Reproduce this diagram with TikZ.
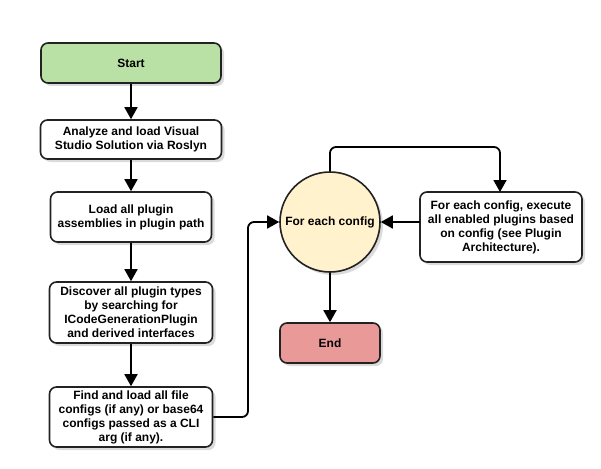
\documentclass[tikz,border=0pt]{standalone}
\usepackage{fontspec}
\setmainfont{Liberation Sans}
\usetikzlibrary{arrows.meta,shadows}
\definecolor{startgreen}{HTML}{B9E0A5}
\definecolor{endred}{HTML}{EA9999}
\definecolor{loopyellow}{HTML}{FFF2CC}
\definecolor{edgegray}{HTML}{222222}
\begin{document}
\begin{tikzpicture}[x=1pt,y=-1pt,
  font=\fontsize{12}{14}\selectfont\bfseries,
  box/.style={draw=edgegray,line width=1.6pt,rounded corners=7pt,fill=white,align=center,inner sep=2pt,
    drop shadow={shadow xshift=3pt,shadow yshift=-3pt,fill=black!28}},
  loopnode/.style={draw=edgegray,line width=1.6pt,circle,fill=loopyellow,minimum size=100pt,inner sep=0pt,
    drop shadow={shadow xshift=3pt,shadow yshift=-3pt,fill=black!28}},
  conn/.style={line width=1.8pt,draw=black,-{Triangle[length=12pt,width=13pt]}},
  elbow/.style={conn,rounded corners=6pt}]
\useasboundingbox (0,0) rectangle (601,468);
\node[box,fill=startgreen,minimum width=180pt,minimum height=40pt] (start) at (131,63) {Start};
\node[box,minimum width=181pt,minimum height=39pt] (analyze) at (131,139.5) {Analyze and load Visual\\Studio Solution via Roslyn};
\node[box,minimum width=161pt,minimum height=50pt] (load) at (131,217) {Load all plugin\\assemblies in plugin path};
\node[box,minimum width=163pt,minimum height=61pt] (discover) at (131,312.5) {Discover all plugin types\\by searching for\\ICodeGenerationPlugin\\and derived interfaces};
\node[box,minimum width=163pt,minimum height=60pt] (find) at (131,417) {Find and load all file\\configs (if any) or base64\\configs passed as a CLI\\arg (if any).};
\node[loopnode] (each) at (330,222) {For each config};
\node[box,minimum width=162pt,minimum height=70pt] (exec) at (501,227) {For each config, execute\\all enabled plugins based\\on config (see Plugin\\Architecture).};
\node[box,fill=endred,minimum width=100pt,minimum height=40pt] (end) at (330,343) {End};
\coordinate (c1) at (248,417);
\coordinate (c2) at (248,222);
\coordinate (u1) at (330,147);
\coordinate (u2) at (500,147);
\coordinate (u3) at (500,192);
\coordinate (w1) at (420,222);
\draw[conn] (start.south) -- (analyze.north);
\draw[conn] (analyze.south) -- (load.north);
\draw[conn] (load.south) -- (discover.north);
\draw[conn] (discover.south) -- (find.north);
\draw[elbow] (find.east) -- (c1) -- (c2) -- (each.west);
\draw[conn] (w1) -- (each.east);
\draw[elbow] (each.north) -- (u1) -- (u2) -- (u3);
\draw[conn] (each.south) -- (end.north);
\end{tikzpicture}
\end{document}
